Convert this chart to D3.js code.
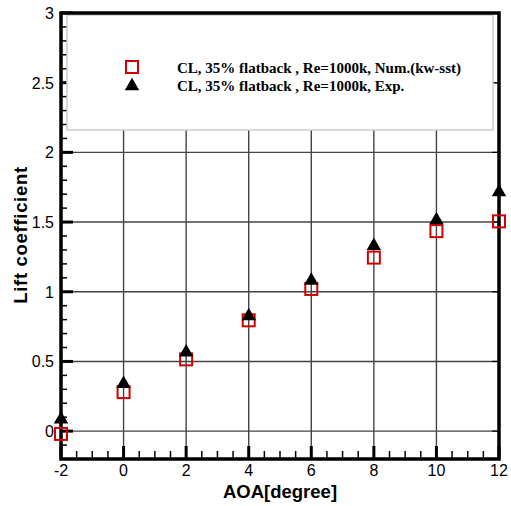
<!DOCTYPE html>
<html>
<head>
<meta charset="utf-8">
<script src="https://cdn.jsdelivr.net/npm/d3@7"></script>
<style>
  body { margin: 0; background: #fff; }
  svg { display: block; }
</style>
</head>
<body>
<svg id="chart" width="511" height="506"></svg>
<script>
// données
const aoa = [-2, 0, 2, 4, 6, 8, 10, 12];
const clNum = [-0.02, 0.28, 0.515, 0.795, 1.02, 1.245, 1.435, 1.505];
const clExp = [0.085, 0.34, 0.565, 0.825, 1.08, 1.33, 1.515, 1.715];
const xTicks = [-2, 0, 2, 4, 6, 8, 10, 12];
const yTicks = [0, 0.5, 1, 1.5, 2, 2.5, 3];
const legendLabels = [
  'CL, 35% flatback , Re=1000k, Num.(kw-sst)',
  'CL, 35% flatback , Re=1000k, Exp.'
];

const svg = d3.select('#chart');
const box = {left: 61, right: 499, top: 13, bottom: 459};

const x = d3.scaleLinear().domain([-2, 12]).range([box.left, box.right]);
const y = d3.scaleLinear().domain([-0.2, 3]).range([box.bottom, box.top]);

const xMinor = d3.range(-2, 12.01, 0.5).filter(v => !xTicks.includes(v));
const yMinor = d3.range(-0.2, 3.001, 0.1).map(v => +v.toFixed(2)).filter(v => !yTicks.includes(v));

// grille
const grid = svg.append('g').attr('stroke', '#444').attr('stroke-width', 1.4);
grid.selectAll('line.v').data(xTicks.slice(1, -1)).join('line')
    .attr('x1', d => x(d)).attr('x2', d => x(d))
    .attr('y1', box.top).attr('y2', box.bottom);
grid.selectAll('line.h').data(yTicks.slice(0, -1)).join('line')
    .attr('y1', d => y(d)).attr('y2', d => y(d))
    .attr('x1', box.left).attr('x2', box.right);

// ticks internes
const ticks = svg.append('g').attr('stroke', '#000');
ticks.selectAll('line.xM').data(xTicks).join('line')
    .attr('x1', d => x(d)).attr('x2', d => x(d))
    .attr('y1', box.bottom).attr('y2', box.bottom - 13).attr('stroke-width', 3);
ticks.selectAll('line.xm').data(xMinor).join('line')
    .attr('x1', d => x(d)).attr('x2', d => x(d))
    .attr('y1', box.bottom).attr('y2', box.bottom - 8).attr('stroke-width', 1.5);
ticks.selectAll('line.yM').data(yTicks).join('line')
    .attr('y1', d => y(d)).attr('y2', d => y(d))
    .attr('x1', box.left).attr('x2', box.left + 12).attr('stroke-width', 3);
ticks.selectAll('line.ym').data(yMinor).join('line')
    .attr('y1', d => y(d)).attr('y2', d => y(d))
    .attr('x1', box.left).attr('x2', box.left + 6).attr('stroke-width', 1.5);
// ticks miroir (haut / droite)
ticks.selectAll('line.xt').data(xTicks).join('line')
    .attr('x1', d => x(d)).attr('x2', d => x(d))
    .attr('y1', box.top).attr('y2', box.top + 6).attr('stroke-width', 1.2);
ticks.selectAll('line.yr').data(yTicks).join('line')
    .attr('y1', d => y(d)).attr('y2', d => y(d))
    .attr('x1', box.right).attr('x2', box.right - 7).attr('stroke-width', 1.2);

// légende
const legend = svg.append('g');
legend.append('rect')
    .attr('x', 67).attr('y', 15).attr('width', 426).attr('height', 115)
    .attr('fill', '#fff').attr('stroke', '#ccc').attr('stroke-width', 1.5);

const tri = d3.symbol().type(d3.symbolTriangle).size(90);

legend.append('rect')
    .attr('x', 126).attr('y', 61).attr('width', 12).attr('height', 12)
    .attr('fill', 'none').attr('stroke', '#d40000').attr('stroke-width', 2);
legend.append('path').attr('d', tri())
    .attr('transform', 'translate(132,86)').attr('fill', '#000');
legend.selectAll('text').data(legendLabels).join('text')
    .attr('x', 177).attr('y', (d, i) => 72.5 + i * 18)
    .attr('font-family', '"Liberation Serif", "Times New Roman", serif')
    .attr('font-weight', 'bold').attr('font-size', 15)
    .text(d => d);

// cadre
svg.append('rect')
    .attr('x', box.left).attr('y', box.top)
    .attr('width', box.right - box.left).attr('height', box.bottom - box.top)
    .attr('fill', 'none').attr('stroke', '#000').attr('stroke-width', 3.5);

// labels de ticks
const font = '"Liberation Sans", Arial, sans-serif';
svg.append('g').selectAll('text').data(xTicks).join('text')
    .attr('x', d => x(d)).attr('y', 476)
    .attr('text-anchor', 'middle').attr('font-family', font).attr('font-size', 16)
    .text(d => d);
svg.append('g').selectAll('text').data(yTicks).join('text')
    .attr('x', 54).attr('y', d => y(d) + 6)
    .attr('text-anchor', 'end').attr('font-family', font).attr('font-size', 16)
    .text(d => d);

// titres d'axes
svg.append('text')
    .attr('x', 280).attr('y', 498).attr('text-anchor', 'middle')
    .attr('font-family', font).attr('font-weight', 'bold').attr('font-size', 18.5)
    .text('AOA[degree]');
svg.append('text')
    .attr('transform', 'translate(27,235) rotate(-90)').attr('text-anchor', 'middle')
    .attr('font-family', font).attr('font-weight', 'bold').attr('font-size', 18.5)
    .attr('letter-spacing', 0.7)
    .text('Lift coefficient');

// séries
const pts = svg.append('g');
pts.selectAll('rect').data(aoa).join('rect')
    .attr('x', (d, i) => x(d) - 6).attr('y', (d, i) => y(clNum[i]) - 6)
    .attr('width', 12).attr('height', 12)
    .attr('fill', 'none').attr('stroke', '#d40000').attr('stroke-width', 2);
pts.selectAll('path').data(aoa).join('path')
    .attr('d', tri())
    .attr('transform', (d, i) => `translate(${x(d)},${y(clExp[i])})`)
    .attr('fill', '#000');
</script>
</body>
</html>
